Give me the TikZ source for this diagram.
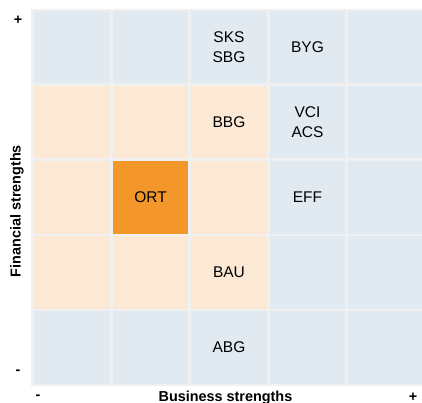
\documentclass[tikz,border=0pt]{standalone}
\usepackage{fontspec}
\setmainfont{Liberation Sans}
\usepackage{xcolor}

\definecolor{gridbg}{HTML}{F0F0F0}
\definecolor{lowcell}{HTML}{E1E9F1}
\definecolor{midcell}{HTML}{FCE9D5}
\definecolor{topcell}{HTML}{F3972B}

\tikzset{
  cell/.style={inner sep=0pt,minimum width=75.5pt,minimum height=72.5pt,align=center,
    font=\fontsize{15.5}{20}\selectfont},
  low/.style={cell,fill=lowcell},
  mid/.style={cell,fill=midcell},
  top/.style={cell,fill=topcell},
  axis/.style={font=\fontsize{14.4}{16}\selectfont\bfseries,inner sep=0pt}
}

\begin{document}
\begin{tikzpicture}[x=1pt,y=-1pt]
\useasboundingbox (0,0) rectangle (422,403);
\fill[gridbg] (31,9) rectangle (423,386);
% first row
\draw (72.0,47.25) node[low](a1) {};
\draw (150.5,47.25) node[low](b1) {};
\draw (229.0,47.25) node[low](c1) {SKS\\SBG};
\draw (307.5,47.25) node[low](d1) {BYG};
\draw (386.0,47.25) node[low](e1) {};
% second row
\draw (72.0,122.25) node[mid](a2) {};
\draw (150.5,122.25) node[mid](b2) {};
\draw (229.0,122.25) node[mid](c2) {BBG};
\draw (307.5,122.25) node[low](d2) {VCI\\ACS};
\draw (386.0,122.25) node[low](e2) {};
% third row
\draw (72.0,197.25) node[mid](a3) {};
\draw (150.5,197.25) node[top](b3) {ORT};
\draw (229.0,197.25) node[mid](c3) {};
\draw (307.5,197.25) node[low](d3) {EFF};
\draw (386.0,197.25) node[low](e3) {};
% fourth row
\draw (72.0,272.25) node[mid](a4) {};
\draw (150.5,272.25) node[mid](b4) {};
\draw (229.0,272.25) node[mid](c4) {BAU};
\draw (307.5,272.25) node[low](d4) {};
\draw (386.0,272.25) node[low](e4) {};
% fifth row
\draw (72.0,347.25) node[low](a5) {};
\draw (150.5,347.25) node[low](b5) {};
\draw (229.0,347.25) node[low](c5) {ABG};
\draw (307.5,347.25) node[low](d5) {};
\draw (386.0,347.25) node[low](e5) {};
% axes
\draw (17,211) node[axis,rotate=90](fin) {Financial strengths};
\draw (225.5,397.5) node[axis](bus) {Business strengths};
\draw (18,20) node[axis](finhi) {+};
\draw (18,372) node[axis](finlo) {-};
\draw (38,397.5) node[axis](buslo) {-};
\draw (413,397) node[axis](bushi) {+};
\end{tikzpicture}
\end{document}
